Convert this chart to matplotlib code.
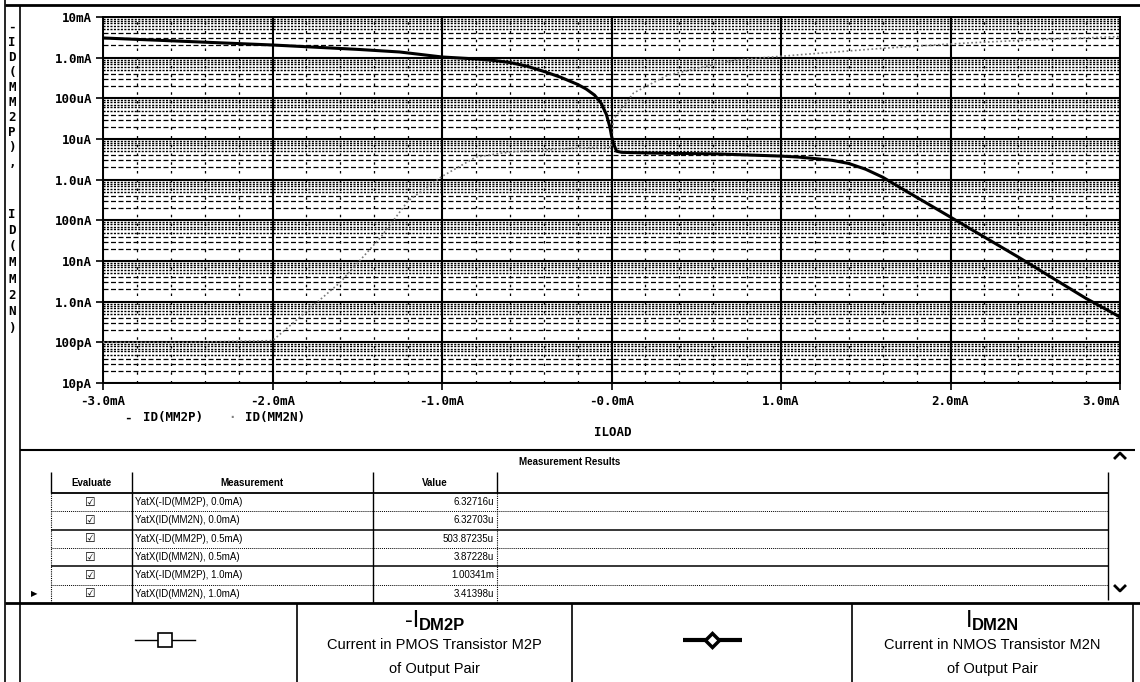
import matplotlib
matplotlib.use('Agg')
import matplotlib.pyplot as plt
from matplotlib.ticker import MultipleLocator, NullLocator, NullFormatter

W, H = 1140, 682

# heavy trace, ILOAD in mA, current in A
iload_heavy = [-3.0, -2.5, -2.0, -1.5, -1.25, -1.0, -0.8, -0.7, -0.6, -0.5, -0.4, -0.3,
               -0.2, -0.15, -0.1, -0.06, -0.03, -0.01, 0.0, 0.01, 0.03, 0.06, 0.25, 0.62,
               1.0, 1.1, 1.2, 1.3, 1.4, 1.5, 1.6, 1.7, 1.8, 2.0, 2.4, 2.8, 3.0]
id_heavy = [3.05e-3, 2.5e-3, 2.05e-3, 1.6e-3, 1.38e-3, 1.04e-3, 0.93e-3, 0.86e-3, 0.76e-3,
            0.62e-3, 0.46e-3, 0.33e-3, 0.22e-3, 0.17e-3, 0.12e-3, 75e-6, 40e-6, 20e-6,
            12e-6, 8e-6, 5e-6, 4.7e-6, 4.5e-6, 4.3e-6, 3.8e-6, 3.6e-6, 3.3e-6, 3.0e-6,
            2.5e-6, 1.8e-6, 1.15e-6, 0.65e-6, 0.37e-6, 0.12e-6, 12.5e-9, 1.2e-9, 0.42e-9]

# faint dotted trace
iload_faint = [-3.0, -2.5, -2.0, -1.6, -1.36, -1.2, -1.0, -0.8, -0.6, -0.2, 0.0, 0.01,
               0.13, 0.33, 0.72, 1.1, 1.6, 2.1, 2.45, 3.0]
id_faint = [100e-12, 100e-12, 110e-12, 3e-9, 39e-9, 0.3e-6, 1.2e-6, 3.6e-6, 4.8e-6, 6e-6,
            6.3e-6, 30e-6, 135e-6, 370e-6, 0.87e-3, 1.17e-3, 1.7e-3, 2.3e-3, 2.7e-3, 3.3e-3]

x_ticks = [-3, -2, -1, 0, 1, 2, 3]
x_tick_labels = ['-3.0mA', '-2.0mA', '-1.0mA', '-0.0mA', '1.0mA', '2.0mA', '3.0mA']
y_ticks = [1e-11, 1e-10, 1e-9, 1e-8, 1e-7, 1e-6, 1e-5, 1e-4, 1e-3, 1e-2]
y_tick_labels = ['10pA', '100pA', '1.0nA', '10nA', '100nA', '1.0uA', '10uA', '100uA',
                 '1.0mA', '10mA']

meas_names = ['YatX(-ID(MM2P), 0.0mA)', 'YatX(ID(MM2N), 0.0mA)', 'YatX(-ID(MM2P), 0.5mA)',
              'YatX(ID(MM2N), 0.5mA)', 'YatX(-ID(MM2P), 1.0mA)', 'YatX(ID(MM2N), 1.0mA)']
meas_values = ['6.32716u', '6.32703u', '503.87235u', '3.87228u', '1.00341m', '3.41398u']

MONO = dict(family='DejaVu Sans Mono', weight='bold')
SANS = ['Liberation Sans', 'DejaVu Sans']

fig = plt.figure(figsize=(W / 100, H / 100), dpi=100)

# background layer in pixel coordinates for frames, table and legend boxes
bg = fig.add_axes([0, 0, 1, 1])
bg.set_xlim(0, W)
bg.set_ylim(H, 0)
bg.axis('off')


def seg(x0, y0, x1, y1, **kw):
    kw.setdefault('color', 'k')
    kw.setdefault('lw', 1)
    bg.plot([x0, x1], [y0, y1], solid_capstyle='butt', **kw)


# outer frame
seg(5, 0, 5, H, lw=1.2)
seg(20, 5, 20, H, lw=1.2)
seg(5, 5, W, 5, lw=2)

# ---- main plot ----
ax = fig.add_axes([103 / W, 1 - 383 / H, (1120 - 103) / W, (383 - 17) / H])
ax.set_yscale('log')
ax.set_xlim(-3, 3)
ax.set_ylim(1e-11, 1e-2)
ax.set_xticks(x_ticks)
ax.set_xticklabels(x_tick_labels, fontsize=9, **MONO)
ax.set_yticks(y_ticks)
ax.set_yticklabels(y_tick_labels, fontsize=9, **MONO)
ax.yaxis.set_minor_locator(NullLocator())
ax.yaxis.set_minor_formatter(NullFormatter())
ax.xaxis.set_minor_locator(MultipleLocator(0.2))
ax.get_xticklabels()[-1].set_ha('right')
ax.tick_params(which='major', direction='out', length=5, width=1.2, pad=3)
ax.tick_params(axis='x', pad=4)
ax.tick_params(which='minor', length=0)
for s in ax.spines.values():
    s.set_linewidth(1.4)

ax.grid(which='major', color='k', lw=1.5, ls='-')
ax.grid(which='minor', axis='x', color='k', lw=0.9, ls=(0, (2, 5)))
for dec in y_ticks[:-1]:
    for m in range(2, 10):
        if m < 5:
            ax.axhline(m * dec, color='k', lw=0.9, ls=(0, (4, 2)), zorder=1)
        else:
            ax.axhline(m * dec, color='k', lw=1.0, ls=(0, (1.5, 1.0)), zorder=1)

ax.plot(iload_faint, id_faint, color='#7a7a7a', lw=1.2, ls=(0, (1, 1.5)), zorder=4)
ax.plot(iload_heavy, id_heavy, color='k', lw=2.2, solid_joinstyle='round', zorder=5)

# stacked y label
first = '-ID(MM2P),'
second = 'ID(MM2N)'
for i, ch in enumerate(first):
    bg.text(12, 27 + i * 15.1, ch, ha='center', va='center', fontsize=9, **MONO)
for i, ch in enumerate(second):
    bg.text(12, 214 + i * 16.3, ch, ha='center', va='center', fontsize=9, **MONO)

# trace legend and x label
bg.text(128, 418, '-', ha='center', va='center', fontsize=9, **MONO)
bg.text(143, 418, 'ID(MM2P)', ha='left', va='center', fontsize=9, **MONO)
bg.text(232, 418, '·', ha='center', va='center', fontsize=9, color='#808080', **MONO)
bg.text(245, 418, 'ID(MM2N)', ha='left', va='center', fontsize=9, **MONO)
bg.text(613, 433, 'ILOAD', ha='center', va='center', fontsize=9, **MONO)

# ---- measurement table ----
seg(20, 450, 1135, 450, lw=1.5)
bg.text(570, 462, 'Measurement Results', ha='center', va='center', fontsize=7,
        family=SANS, weight='bold')
row_top = 493
row_h = 18.3
for xc in (51, 132, 373, 497):
    seg(xc, 472, xc, row_top, lw=1)
seg(51, row_top, 1108, row_top, lw=1.3)
bg.text(92, 483, 'Evaluate', ha='center', va='center', fontsize=7, family=SANS, weight='bold')
bg.text(252, 483, 'Measurement', ha='center', va='center', fontsize=7, family=SANS, weight='bold')
bg.text(435, 483, 'Value', ha='center', va='center', fontsize=7, family=SANS, weight='bold')

seg(51, row_top, 51, 603, lw=0.8, ls=(0, (1, 1)))
seg(132, row_top, 132, 603, lw=1)
seg(373, row_top, 373, 603, lw=1)
seg(497, row_top, 497, 603, lw=0.8, ls=(0, (1, 1)))
for i, (name, val) in enumerate(zip(meas_names, meas_values)):
    yc = row_top + row_h * (i + 0.5)
    bg.text(90, yc, '☑', ha='center', va='center', fontsize=8.5, family=['DejaVu Sans'])
    bg.text(135, yc, name, ha='left', va='center', fontsize=7, family=SANS)
    bg.text(494, yc, val, ha='right', va='center', fontsize=7, family=SANS)
    yl = row_top + row_h * (i + 1)
    if i < len(meas_names) - 1:
        if i % 2 == 0:
            seg(51, yl, 1108, yl, lw=0.7, ls=(0, (1, 1)))
        else:
            seg(51, yl, 1108, yl, lw=1.1)
bg.text(34, row_top + row_h * 5.5, '▶', ha='center', va='center', fontsize=6,
        family=['DejaVu Sans'])

# scroll bar
seg(1108, 472, 1108, 600, lw=1)
bg.plot([1115, 1120, 1125], [458, 453, 458], color='k', lw=2)
bg.plot([1115, 1120, 1125], [586, 591, 586], color='k', lw=2)

# ---- legend boxes ----
seg(5, 603, W, 603, lw=2)
for xc in (297, 572, 852, 1133):
    seg(xc, 603, xc, H, lw=1.2)

bg.plot([135, 195], [640, 640], color='k', lw=1)
bg.plot([165], [640], marker='s', ms=10, mfc='white', mec='k', mew=1.2)
bg.plot([683, 742], [640, 640], color='k', lw=3, solid_capstyle='butt')
bg.plot([712], [640], marker='D', ms=7, mfc='white', mec='k', mew=2.5)

for xsplit, head, sub, line1 in ((419, '-I', 'DM2P', 'Current in PMOS Transistor M2P'),
                                 (972, 'I', 'DM2N', 'Current in NMOS Transistor M2N')):
    bg.text(xsplit, 627, head, ha='right', va='baseline', fontsize=17, family=SANS)
    bg.text(xsplit, 630, sub, ha='left', va='baseline', fontsize=12, family=SANS,
            weight='bold')
    xc = 434 if sub == 'DM2P' else 992
    bg.text(xc, 645, line1, ha='center', va='center', fontsize=10.5, family=SANS)
    bg.text(xc, 669, 'of Output Pair', ha='center', va='center', fontsize=10.5, family=SANS)

fig.savefig('out.png', dpi=100)
